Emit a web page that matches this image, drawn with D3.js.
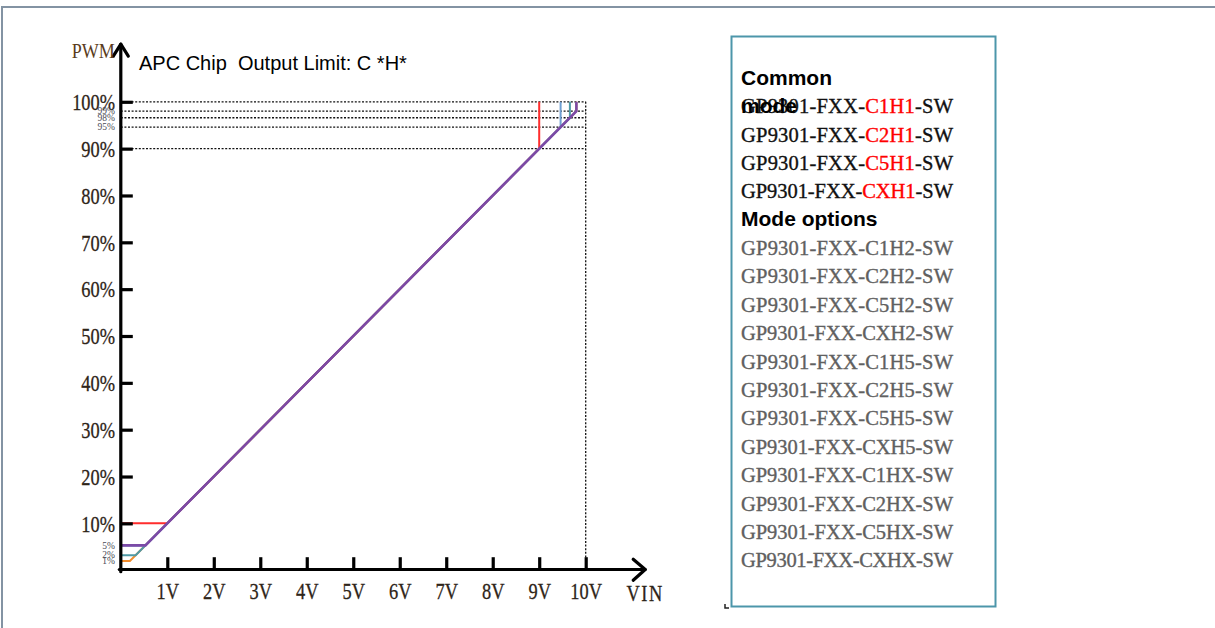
<!DOCTYPE html>
<html>
<head>
<meta charset="utf-8">
<script src="https://cdn.jsdelivr.net/npm/d3@7"></script>
<style>
  body { margin: 0; background: #fff; }
  svg { display: block; }
  text { white-space: pre; }
</style>
</head>
<body>
<svg id="chart"></svg>
<script>
// axis ticks
const xTicks = [1, 2, 3, 4, 5, 6, 7, 8, 9, 10];
const xTickLabels = ['1V', '2V', '3V', '4V', '5V', '6V', '7V', '8V', '9V', '10V'];
const yTicks = [10, 20, 30, 40, 50, 60, 70, 80, 90, 100];
const yTickLabels = ['10%', '20%', '30%', '40%', '50%', '60%', '70%', '80%', '90%', '100%'];

// small limit labels (drawn heights)
const minorLevels = [98.0, 96.6, 94.6, 5.3, 3.2, 1.96];
const minorLabels = ['99%', '98%', '95%', '5%', '2%', '1%'];

// dashed guide levels at the top
const guideLevels = [100, 98.0, 96.6, 94.6, 90];

// output curves: min level, max level (PWM = 10 * VIN in between)
const curveColors = ['#f28c2c', '#4f9aa6', '#6e9fd2', '#ff2d2d', '#7b4aa6'];
const curveMin = [1.96, 3.2, 5.3, 10, 5.3];
const curveMax = [98.0, 96.6, 94.6, 90, 98.0];

// legend
const commonModels = ['C1H1', 'C2H1', 'C5H1', 'CXH1'];
const optionModels = ['C1H2', 'C2H2', 'C5H2', 'CXH2', 'C1H5', 'C2H5', 'C5H5', 'CXH5',
                      'C1HX', 'C2HX', 'C5HX', 'CXHX'];

const W = 1215, H = 628;
const svg = d3.select('#chart').attr('width', W).attr('height', H);

// outer frame
svg.append('path')
    .attr('d', `M2,628 L2,7 L1215,7`)
    .attr('fill', 'none')
    .attr('stroke', '#8393a3')
    .attr('stroke-width', 2);

const x = d3.scaleLinear().domain([0, 10]).range([120.8, 585.7]);
const y = d3.scaleLinear().domain([0, 100]).range([570.2, 101.8]);

const serif = '"Liberation Serif", "Times New Roman", serif';

// dashed guides
svg.append('g')
    .selectAll('line')
    .data(guideLevels)
    .enter().append('line')
    .attr('x1', x(0)).attr('x2', x(10))
    .attr('y1', d => y(d)).attr('y2', d => y(d))
    .attr('stroke', '#111')
    .attr('stroke-width', 1.3)
    .attr('stroke-dasharray', '2,1.6');

svg.append('line')
    .attr('x1', x(10)).attr('x2', x(10))
    .attr('y1', y(100)).attr('y2', y(0))
    .attr('stroke', '#111')
    .attr('stroke-width', 1.3)
    .attr('stroke-dasharray', '2,1.6');

// curves
const line = d3.line().x(d => x(d[0])).y(d => y(d[1]));
svg.append('g')
    .selectAll('path')
    .data(curveColors.map((c, i) => ({
        color: c,
        pts: [[0, curveMin[i]], [curveMin[i] / 10, curveMin[i]],
              [curveMax[i] / 10, curveMax[i]], [curveMax[i] / 10, 100]]
    })))
    .enter().append('path')
    .attr('d', d => line(d.pts))
    .attr('fill', 'none')
    .attr('stroke', d => d.color)
    .attr('stroke-width', (d, i) => i === curveColors.length - 1 ? 2.6 : 2);

// x axis
const xAxis = svg.append('g')
    .attr('transform', `translate(0,${y(0)})`)
    .call(d3.axisBottom(x).tickValues(xTicks)
        .tickFormat((d, i) => xTickLabels[i])
        .tickSize(-13).tickSizeOuter(0).tickPadding(0));
xAxis.select('.domain').remove();
xAxis.selectAll('.tick line').attr('stroke', '#000').attr('stroke-width', 3.2);
xAxis.selectAll('.tick text')
    .attr('y', 28.5).attr('dy', 0)
    .attr('transform', 'scale(0.8,1)')
    .attr('font-family', serif).attr('font-size', 23)
    .attr('fill', '#2e2418')
    .attr('stroke', '#2e2418').attr('stroke-width', 0.3);

// y axis
const yAxis = svg.append('g')
    .attr('transform', `translate(${x(0)},0)`)
    .call(d3.axisLeft(y).tickValues(yTicks)
        .tickFormat((d, i) => yTickLabels[i])
        .tickSize(-12).tickSizeOuter(0).tickPadding(0));
yAxis.select('.domain').remove();
yAxis.selectAll('.tick line').attr('stroke', '#000').attr('stroke-width', 3.2);
yAxis.selectAll('.tick text')
    .attr('x', -7.2).attr('dy', '0.34em')
    .attr('transform', 'scale(0.8,1)')
    .attr('font-family', serif).attr('font-size', 23)
    .attr('fill', '#2e2418')
    .attr('stroke', '#2e2418').attr('stroke-width', 0.3);

// minor limit labels
svg.append('g')
    .selectAll('text')
    .data(minorLevels)
    .enter().append('text')
    .attr('x', x(0) - 6)
    .attr('y', d => y(d))
    .attr('dy', '0.34em')
    .attr('text-anchor', 'end')
    .attr('font-family', serif)
    .attr('font-size', 9.5)
    .attr('fill', '#4a4a55')
    .text((d, i) => minorLabels[i]);

// axis lines with arrows
const axes = svg.append('g')
    .attr('fill', 'none')
    .attr('stroke', '#000')
    .attr('stroke-width', 3.2)
    .attr('stroke-linecap', 'round')
    .attr('stroke-linejoin', 'round');
axes.append('line')
    .attr('x1', x(0)).attr('x2', x(0))
    .attr('y1', y(0) + 1.5).attr('y2', y(112.3));
axes.append('line')
    .attr('x1', x(0) - 1.5).attr('x2', x(11.28))
    .attr('y1', y(0) - 0.7).attr('y2', y(0) - 0.7);
axes.append('path')
    .attr('d', `M${x(0) - 7.5},${y(112.3) + 12} L${x(0)},${y(112.3)} L${x(0) + 7.5},${y(112.3) + 12}`);
axes.append('path')
    .attr('d', `M${x(11.28) - 12},${y(0) - 11} L${x(11.28)},${y(0) - 0.7} L${x(11.28) - 12},${y(0) + 10}`);

// axis names
svg.append('text')
    .attr('transform', `translate(${x(0) - 6},58) scale(0.82,1)`)
    .attr('text-anchor', 'end')
    .attr('font-family', serif).attr('font-size', 22)
    .attr('fill', '#5a3c1c')
    .text('PWM');

svg.append('text')
    .attr('transform', `translate(${x(11.28)},601) scale(0.8,1)`)
    .attr('text-anchor', 'middle')
    .attr('font-family', serif).attr('font-size', 23)
    .attr('letter-spacing', 2)
    .attr('fill', '#2e2418')
    .attr('stroke', '#2e2418').attr('stroke-width', 0.3)
    .text('VIN');

// title
svg.append('text')
    .attr('x', 139).attr('y', 69.5)
    .attr('font-family', '"Liberation Sans", Arial, sans-serif')
    .attr('font-size', 20)
    .attr('fill', '#000')
    .text('APC Chip  Output Limit: C *H*');

// legend box
const lg = svg.append('g');
lg.append('rect')
    .attr('x', 731.5).attr('y', 36.5)
    .attr('width', 264).attr('height', 570)
    .attr('fill', '#fff')
    .attr('stroke', '#4c96aa')
    .attr('stroke-width', 2);

svg.append('path')
    .attr('d', 'M725,604 L725,608 L729,608')
    .attr('fill', 'none').attr('stroke', '#222').attr('stroke-width', 1.5);

const sansBold = t => t.attr('font-family', '"Liberation Sans", Arial, sans-serif')
    .attr('font-size', 21).attr('font-weight', 'bold').attr('fill', '#000');
lg.append('text').attr('x', 741).attr('y', 85).call(sansBold).text('Common');
lg.append('text').attr('x', 741).attr('y', 226).call(sansBold).text('Mode options');

const modelText = (t, color) => t
    .attr('font-family', serif).attr('font-size', 20.5)
    .attr('textLength', 212).attr('lengthAdjust', 'spacing')
    .attr('fill', color)
    .attr('stroke', color).attr('stroke-width', 0.35);

commonModels.forEach((m, i) => {
    const t = lg.append('text')
        .attr('x', 741).attr('y', 113.3 + i * 28.35)
        .call(modelText, '#111');
    t.append('tspan').text('GP9301-FXX-');
    t.append('tspan').attr('fill', '#ff0000').attr('stroke', '#ff0000').text(m);
    t.append('tspan').text('-SW');
});
lg.append('text').attr('x', 741).attr('y', 113.3).call(sansBold).text('mode');

lg.selectAll('text.opt')
    .data(optionModels)
    .enter().append('text')
    .attr('class', 'opt')
    .attr('x', 741)
    .attr('y', (d, i) => 255 + i * 28.4)
    .call(modelText, '#606060')
    .text(d => `GP9301-FXX-${d}-SW`);
</script>
</body>
</html>
